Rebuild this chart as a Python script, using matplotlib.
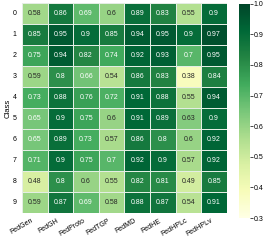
import numpy as np
import matplotlib
matplotlib.use('Agg')
import matplotlib.pyplot as plt
import seaborn as sns

methods = ['FedGen', 'FedGH', 'FedProto', 'FedTGP', 'FedMD', 'FedHE', 'FedHPLc', 'FedHPLv']
classes = [str(i) for i in range(10)]

acc = np.array([
    [0.58, 0.86, 0.69, 0.6, 0.89, 0.83, 0.55, 0.9],
    [0.85, 0.95, 0.9, 0.85, 0.94, 0.95, 0.9, 0.97],
    [0.75, 0.94, 0.82, 0.74, 0.92, 0.93, 0.7, 0.95],
    [0.59, 0.8, 0.66, 0.54, 0.86, 0.83, 0.38, 0.84],
    [0.73, 0.88, 0.76, 0.72, 0.91, 0.88, 0.55, 0.94],
    [0.65, 0.9, 0.75, 0.6, 0.91, 0.89, 0.63, 0.9],
    [0.65, 0.89, 0.73, 0.57, 0.86, 0.8, 0.6, 0.92],
    [0.71, 0.9, 0.75, 0.7, 0.92, 0.9, 0.57, 0.92],
    [0.48, 0.8, 0.6, 0.55, 0.82, 0.81, 0.49, 0.85],
    [0.59, 0.87, 0.69, 0.58, 0.88, 0.87, 0.54, 0.91],
])

plt.rcParams['font.family'] = ['Liberation Sans', 'DejaVu Sans']

fig = plt.figure(figsize=(2.66, 2.45), dpi=100)
ax = fig.add_axes([0.083, 0.13, 0.77, 0.857])
cax = fig.add_axes([0.898, 0.11, 0.041, 0.875])

sns.heatmap(acc, ax=ax, cbar_ax=cax, cmap='YlGn', vmin=0.3, vmax=1.0,
            annot=True, annot_kws={'size': 5}, linewidths=0.4, linecolor='#e4eee4',
            xticklabels=methods, yticklabels=classes)

# light text on the darker cells
for t in ax.texts:
    v = float(t.get_text())
    t.set_color('white' if v >= 0.64 else '#262626')

ax.set_ylabel('Class', fontsize=5.5, labelpad=1)
ax.set_xticklabels(methods, rotation=30, ha='right', fontsize=5)
ax.set_yticklabels(classes, rotation=0, fontsize=5)
ax.tick_params(axis='y', length=0, pad=4)
ax.tick_params(axis='x', length=0, pad=3)
cax.tick_params(labelsize=5, length=2, width=0.5, pad=1)
cax.set_yticks([0.3, 0.4, 0.5, 0.6, 0.7, 0.8, 0.9, 1.0])
for s in cax.spines.values():
    s.set_visible(False)

fig.savefig('out.png', dpi=100)
